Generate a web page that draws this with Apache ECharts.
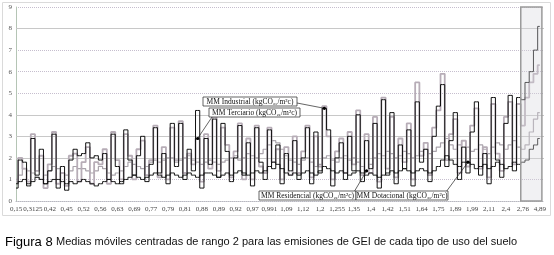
<!DOCTYPE html>
<html><head><meta charset="utf-8">
<script src="https://cdn.jsdelivr.net/npm/echarts@6/dist/echarts.min.js"></script>
<style>html,body{margin:0;padding:0;background:#fff}#c{width:554px;height:255px}</style>
</head><body><div id="c"></div>
<script>
var tickLabels = ['0,15','0,3125','0,42','0,45','0,52','0,56','0,63','0,69','0,77','0,79','0,81','0,88','0,89','0,92','0,97','0,991','1,09','1,12','1,2','1,255','1,35','1,4','1,42','1,51','1,64','1,75','1,89','1,99','2,11','2,4','2,76','4,89'];
var yTicks = [0,1,2,3,4,5,6,7,8,9];

var industrial = [
0.6,1.9,1.8,0.7,2.9,1.2,2.4,0.8,1.4,3.1,
0.6,1.6,0.5,1.9,2.4,2.1,2.2,2.7,2.0,2.1,
1.9,2.2,1.0,3.1,1.6,0.8,3.3,1.9,1.2,2.1,
3.0,0.9,1.7,3.4,1.3,2.2,0.8,3.6,1.6,3.6,
1.0,2.4,1.4,4.2,0.6,2.9,1.7,3.8,1.1,3.6,
2.3,0.9,2.0,3.5,1.2,2.7,0.7,3.4,1.8,1.0,
3.3,1.5,2.6,0.8,2.2,1.4,2.8,1.0,2.0,3.4,
0.8,3.2,1.3,4.3,3.3,0.7,2.0,2.7,1.0,3.0,
1.4,4.0,0.9,2.8,1.5,3.6,0.6,4.7,1.2,4.1,
0.8,2.6,1.5,3.3,0.7,4.6,1.8,2.4,0.9,3.0,
4.4,5.4,1.6,2.8,4.1,1.0,2.5,1.3,3.2,4.6,
1.2,2.2,0.8,4.8,1.9,1.1,3.6,4.9,1.4,4.8,
4.7,5.5,6.0,7.0,8.1];

var terciario = [
0.9,2.0,1.5,0.9,3.1,1.4,2.1,0.6,1.7,3.2,
0.8,1.3,0.7,2.1,2.2,0.9,1.8,2.5,0.8,1.8,
1.7,2.4,0.8,3.2,1.9,1.0,3.1,2.1,1.0,2.4,
2.8,1.2,1.9,3.5,1.1,2.5,1.0,3.4,1.9,3.7,
1.3,2.2,1.7,2.9,0.9,3.1,1.5,3.9,1.4,3.4,
2.6,1.1,2.3,3.6,1.0,2.9,1.0,3.5,1.6,1.3,
3.4,1.8,2.4,1.0,2.5,1.2,3.0,1.3,2.3,3.5,
1.1,3.0,1.6,4.4,3.0,1.0,2.3,2.9,1.3,3.2,
1.7,4.2,1.2,3.1,1.3,3.9,0.9,4.8,1.5,3.9,
1.1,2.9,1.8,3.6,1.0,5.5,2.1,2.7,1.2,3.4,
4.2,5.9,1.9,3.1,3.8,1.3,2.8,1.6,3.5,4.3,
1.5,2.5,1.1,4.5,2.2,1.4,3.9,4.6,1.7,4.5,
3.5,4.8,5.5,5.9,6.3];

var residencial = [
1.0,1.2,1.5,1.4,1.3,1.1,1.0,1.2,1.4,1.6,
1.5,1.3,1.2,1.4,1.6,1.5,1.5,1.4,1.3,1.4,
1.6,1.5,1.3,1.2,1.3,1.4,1.6,1.8,1.7,1.6,
1.5,1.6,1.8,1.9,1.8,1.9,2.0,2.0,1.8,1.9,
2.0,2.1,1.9,1.8,1.7,1.8,1.9,1.8,1.7,1.8,
1.9,2.0,2.1,1.9,2.0,2.2,2.1,2.0,2.2,2.4,
2.6,2.8,2.7,2.4,2.1,1.9,1.8,1.7,1.9,2.0,
1.8,1.6,1.7,2.0,2.1,1.9,1.8,2.0,2.1,1.9,
2.0,1.8,1.6,1.4,1.7,2.0,2.2,2.1,2.3,2.2,
2.0,2.1,2.3,2.2,2.0,2.1,2.3,2.4,2.2,2.3,
2.5,2.7,2.9,2.6,2.4,2.6,2.8,2.5,2.3,2.4,
2.6,2.4,2.2,2.5,2.7,2.6,2.4,2.6,2.8,2.5,
2.4,2.6,3.2,3.8,4.1];

var dotacional = [
0.8,0.9,1.0,0.8,0.9,1.1,1.0,0.8,0.9,1.0,
1.0,0.9,0.8,0.9,0.8,0.9,1.0,0.9,0.8,0.7,
0.8,0.9,1.0,0.9,0.8,0.9,1.0,1.1,1.2,1.1,
1.0,1.1,1.2,1.3,1.2,1.1,1.2,1.3,1.2,1.1,
1.2,1.3,1.2,1.1,1.2,1.3,1.3,1.2,1.1,1.2,
1.3,1.2,1.3,1.4,1.3,1.2,1.3,1.4,1.3,1.4,
1.6,1.8,1.7,1.5,1.3,1.2,1.3,1.2,1.3,1.4,
1.3,1.2,1.4,1.6,1.5,1.4,1.3,1.4,1.3,1.2,
1.3,1.4,1.3,1.2,1.3,1.2,1.1,1.2,1.3,1.4,
1.3,1.4,1.5,1.4,1.3,1.4,1.5,1.4,1.3,1.4,
1.6,1.9,2.1,1.9,1.7,1.6,1.8,1.8,1.7,1.5,
1.6,1.7,1.5,1.6,1.8,1.7,1.5,1.6,1.8,1.7,
1.8,1.9,2.4,2.6,2.9];

var seriesNames = ['MM Industrial (kgCO₂ₑ/m²c)','MM Terciario (kgCO₂ₑ/m²c)','MM Residencial (kgCO₂ₑ/m²c)','MM Dotacional (kgCO₂ₑ/m²c)'];
var caption = 'Medias móviles centradas de rango 2 para las emisiones de GEI de cada tipo de uso del suelo';

var categories = [];
for (var i = 0; i < 126; i++) {
  var k = Math.floor(i / 4);
  categories.push(i % 4 === 0 ? tickLabels[k] : tickLabels[Math.min(k, tickLabels.length - 1)] + '_' + (i % 4));
}

var chart = echarts.init(document.getElementById('c'), null, {renderer: 'canvas'});
function lineSeries(name, data, color, width, z) {
  return {name: name, type: 'line', data: data, step: 'middle', showSymbol: false, symbol: 'none',
    lineStyle: {color: color, width: width}, z: z, silent: true};
}
var option = {
  animation: false,
  grid: {left: 16, right: 10, top: 7, bottom: 54},
  xAxis: {type: 'category', data: categories, boundaryGap: false,
    axisLine: {lineStyle: {color: '#b8b8c0', type: 'dotted'}},
    axisTick: {show: false},
    axisLabel: {interval: 3, fontFamily: 'Liberation Serif', fontSize: 7, color: '#444', margin: 5},
    splitLine: {show: false}},
  yAxis: {type: 'value', min: 0, max: 9, interval: 1,
    axisLine: {show: true, lineStyle: {color: '#b5c5b5'}},
    axisTick: {show: false},
    axisLabel: {fontFamily: 'Liberation Serif', fontSize: 7, color: '#555', margin: 4},
    splitLine: {lineStyle: {color: '#c6bece', type: 'dotted'}}},
  series: [
    lineSeries(seriesNames[1], terciario, '#b7adb7', 1.8, 3),
    lineSeries(seriesNames[2], residencial, '#a9a3ab', 1.2, 2),
    lineSeries(seriesNames[3], dotacional, '#1a1a1a', 1, 4),
    Object.assign(lineSeries(seriesNames[0], industrial, '#111111', 1, 5), {
      markLine: {silent: true, symbol: 'none', label: {show: false},
        lineStyle: {color: '#c8c8c8', type: 'solid', width: 1}, z: 1,
        data: [{yAxis: 2}, {yAxis: 3}, {yAxis: 4}, {yAxis: 8}]}
    })
  ]
};
chart.setOption(option);

function px(i, v) { return chart.convertToPixel({xAxisIndex: 0, yAxisIndex: 0}, [i, v]); }
var pA = px(119, 9), pB = px(120, 0), pC = px(124, 0), pD = px(125, 0);
var boxL = (pA[0] + pB[0]) / 2, boxR = (pC[0] + pD[0]) / 2;

function callout(text, bx, by, bw, tx, ty, fromX, fromY) {
  var tgt = px(tx, ty);
  return [
    {type: 'line', shape: {x1: fromX, y1: fromY, x2: tgt[0], y2: tgt[1]}, style: {stroke: '#222', lineWidth: 0.7}, z: 100},
    {type: 'circle', shape: {cx: tgt[0], cy: tgt[1], r: 1.6}, style: {fill: '#000'}, z: 101},
    {type: 'rect', shape: {x: bx, y: by, width: bw, height: 9}, style: {fill: '#fff', stroke: '#222', lineWidth: 0.7}, z: 100},
    {type: 'text', x: bx + bw / 2, y: by + 5, style: {text: text, font: '7.5px "Liberation Serif"', fill: '#111', align: 'center', verticalAlign: 'middle'}, z: 101}
  ];
}

var g = [
  {type: 'rect', shape: {x: 2.5, y: 2.5, width: 548, height: 213}, style: {fill: 'none', stroke: '#dadada', lineWidth: 1}, z: 0, silent: true},
  {type: 'rect', shape: {x: boxL, y: px(0, 9)[1], width: boxR - boxL, height: px(0, 0)[1] - px(0, 9)[1]},
    style: {fill: 'rgba(215,215,222,0.35)', stroke: '#9a9a9a', lineWidth: 1.5}, z: 50, silent: true},
  {type: 'text', x: 5, y: 242, style: {
    text: '{a|Figura 8} {b|' + caption + '}',
    rich: {a: {fontFamily: 'Liberation Sans', fontSize: 13, fill: '#000'}, b: {fontFamily: 'Liberation Sans', fontSize: 11, fill: '#111'}},
    verticalAlign: 'middle'}, z: 100}
];
g = g.concat(callout(seriesNames[0], 203, 97, 94, 73, 4.3, 297, 103));
g = g.concat(callout(seriesNames[1], 209, 108, 91, 43, 2.9, 212, 117));
g = g.concat(callout(seriesNames[2], 259, 191, 97, 83, 1.4, 354, 192));
g = g.concat(callout(seriesNames[3], 356, 191, 92, 107, 1.8, 446, 192));
chart.setOption({graphic: g});
</script>
</body></html>
